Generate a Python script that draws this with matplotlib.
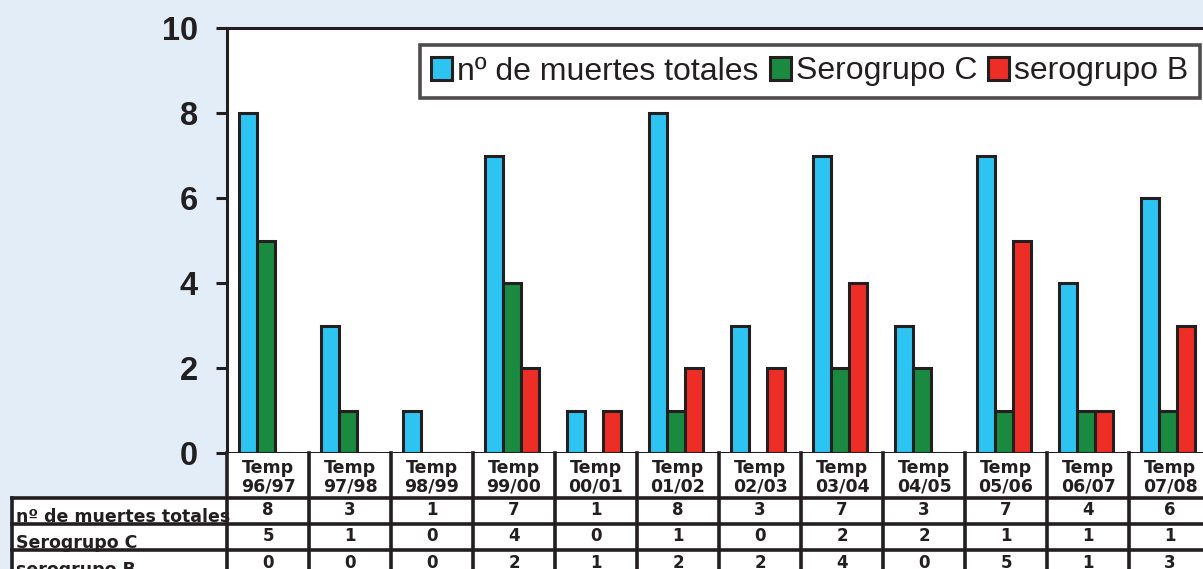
import matplotlib
matplotlib.use("Agg")
import matplotlib.pyplot as plt
import matplotlib.transforms as mtransforms
from matplotlib.patches import Patch, Rectangle
import numpy as np

# ---------------- data ----------------
categories = ['Temp\n96/97', 'Temp\n97/98', 'Temp\n98/99', 'Temp\n99/00', 'Temp\n00/01',
              'Temp\n01/02', 'Temp\n02/03', 'Temp\n03/04', 'Temp\n04/05', 'Temp\n05/06',
              'Temp\n06/07', 'Temp\n07/08']
series_names = ['nº de muertes totales', 'Serogrupo C', 'serogrupo B']
muertes_totales = [8, 3, 1, 7, 1, 8, 3, 7, 3, 7, 4, 6]
serogrupo_c = [5, 1, 0, 4, 0, 1, 0, 2, 2, 1, 1, 1]
serogrupo_b = [0, 0, 0, 2, 1, 2, 2, 4, 0, 5, 1, 3]
yticks = [0, 2, 4, 6, 8, 10]

# ---------------- style ----------------
W, H = 1203, 569
BG = '#e2edf8'
INK = '#231f20'
colors = ['#2ec4f2', '#1a8a41', '#ee2e26']
LW = 2.2

fig = plt.figure(figsize=(W / 100, H / 100), dpi=100, facecolor=BG)

ax_left, ax_top, ax_bottom = 227, 28, 453
ax_w = 984
ax = fig.add_axes([ax_left / W, (H - ax_bottom) / H, ax_w / W, (ax_bottom - ax_top) / H])
ax.set_facecolor('white')

x = np.arange(len(categories))
bw = 0.22
offsets = [-0.244, -0.024, 0.196]
for vals, col, off in zip([muertes_totales, serogrupo_c, serogrupo_b], colors, offsets):
    ax.bar(x + off, vals, width=bw, color=col, edgecolor=INK, linewidth=LW, zorder=2)

ax.set_xlim(-0.5, len(categories) - 0.5)
ax.set_ylim(0, 10)
ax.set_yticks(yticks)
ax.set_yticklabels([str(t) for t in yticks], fontfamily='Liberation Sans',
                   fontweight='bold', fontsize=23.5, color=INK)
ax.tick_params(axis='y', direction='out', length=8, width=LW, color=INK, pad=13)
ax.set_xticks([])
for s in ax.spines.values():
    s.set_linewidth(LW)
    s.set_color(INK)
    s.set_zorder(5)

# legend
handles = [Patch(facecolor=c, edgecolor=INK, linewidth=LW) for c in colors]
leg = fig.legend(handles, series_names, loc='upper right',
                 bbox_to_anchor=(1200 / W, 1 - 45 / H), bbox_transform=fig.transFigure,
                 ncol=3, frameon=True, fancybox=False, borderaxespad=0,
                 prop={'family': 'Liberation Sans', 'size': 23},
                 handlelength=0.66, handleheight=0.7, handletextpad=0.15,
                 columnspacing=0.35, borderpad=0.36, labelcolor=INK)
leg.get_frame().set_edgecolor(INK)
leg.get_frame().set_linewidth(LW + 0.4)
leg.get_frame().set_facecolor('white')

# ---------------- data table below ----------------
def fy(py):
    return 1 - py / H

def fx(px):
    return px / W

# x in data coords of ax, y in figure coords
blend = mtransforms.blended_transform_factory(ax.transData, fig.transFigure)

row_tops = [498, 524, 550, 577]
table_bottom = 600

# white background for table cells
fig.add_artist(Rectangle((-0.5, fy(table_bottom)), len(categories), fy(ax_bottom) - fy(table_bottom),
                         transform=blend, facecolor='white', edgecolor='none', zorder=1))
fig.add_artist(Rectangle((fx(12), fy(table_bottom)), fx(ax_left) - fx(12), fy(row_tops[0]) - fy(table_bottom),
                         transform=fig.transFigure, facecolor='white', edgecolor='none', zorder=1))

# header texts
for i, c in enumerate(categories):
    fig.text(i, fy((ax_bottom + row_tops[0]) / 2 + 1.5), c, transform=blend, ha='center', va='center',
             fontfamily='DejaVu Sans', fontweight='bold', fontsize=12.5, color=INK,
             linespacing=1.02, zorder=3)

# rows
rows = [muertes_totales, serogrupo_c, serogrupo_b]
for r, (name, vals) in enumerate(zip(series_names, rows)):
    top, bot = row_tops[r], row_tops[r + 1]
    fig.text(fx(16), fy(bot - 2), name, ha='left', va='baseline',
             fontfamily='DejaVu Sans', fontweight='bold', fontsize=12.5, color=INK, zorder=3)
    for i, v in enumerate(vals):
        fig.text(i, fy((top + bot) / 2 - 1), str(v), transform=blend, ha='center', va='center',
                 fontfamily='DejaVu Sans', fontweight='bold', fontsize=12, color=INK, zorder=3)

# grid lines of table
for py in row_tops:
    fig.add_artist(plt.Line2D([fx(12), 1.02], [fy(py), fy(py)], transform=fig.transFigure,
                              color=INK, linewidth=LW + 0.4, zorder=4))
for i in range(len(categories) + 1):
    xb = i - 0.5
    fig.add_artist(plt.Line2D([xb, xb], [fy(ax_bottom), fy(table_bottom)], transform=blend,
                              color=INK, linewidth=LW + 0.4, zorder=4))
fig.add_artist(plt.Line2D([fx(12), fx(12)], [fy(row_tops[0]), fy(table_bottom)],
                          transform=fig.transFigure, color=INK, linewidth=LW + 0.4, zorder=4))

fig.savefig('out.png', dpi=100, facecolor=BG)
